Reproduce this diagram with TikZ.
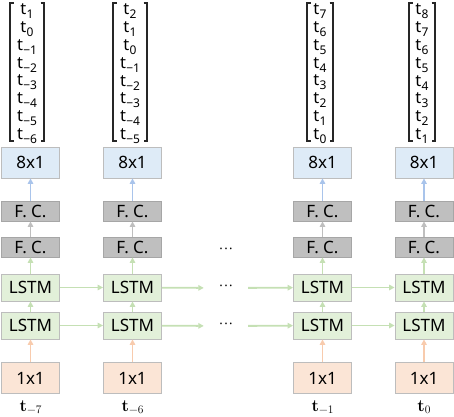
\documentclass[tikz,border=0pt]{standalone}
\usepackage{fontspec}
\setmainfont{Noto Sans}
\newfontfamily\lmr{Latin Modern Roman}
\usetikzlibrary{arrows.meta}
\definecolor{bluef}{HTML}{DEEBF7}
\definecolor{bluea}{HTML}{A9C4EB}
\definecolor{grayf}{HTML}{BFBFBF}
\definecolor{grayd}{HTML}{A6A6A6}
\definecolor{greenf}{HTML}{E2F0D9}
\definecolor{greena}{HTML}{C5E0B4}
\definecolor{orangef}{HTML}{FBE5D6}
\definecolor{orangea}{HTML}{F8CBAD}
\definecolor{bord}{HTML}{BDBDBD}
\newcommand\tsub[1]{t\kern0.3pt\raisebox{-0.45ex}{\fontsize{12}{12}\selectfont #1}}
\newcommand\blab[1]{{\lmr\bfseries t}\raisebox{-0.3ex}{\lmr\fontsize{11.5}{11.5}\selectfont #1}}
\begin{document}
\begin{tikzpicture}[x=1pt,y=-1pt,
  box/.style={draw=bord,line width=0.8pt,minimum width=58pt,inner sep=0pt,font=\fontsize{17}{17}\selectfont},
  outbox/.style={box,fill=bluef,minimum height=31pt},
  fcbox/.style={box,fill=grayf,draw=grayd,minimum height=20pt},
  lstmbox/.style={box,fill=greenf,minimum height=27pt},
  inbox/.style={box,fill=orangef,minimum height=31pt},
  arr/.style={line width=1.8pt,-{Triangle[length=5.5pt,width=5.5pt]}},
  dots/.style={inner sep=0pt,minimum width=44pt,minimum height=10pt,font=\fontsize{13}{13}\selectfont\bfseries},
  entry/.style={inner sep=0pt,font=\fontsize{16.5}{16.5}\selectfont},
  blabel/.style={inner sep=0pt,anchor=base,font=\fontsize{17}{17}\selectfont},
  brk/.style={line width=1.1pt,black!85}]
\useasboundingbox (0,0) rectangle (454,416);
% columns
\foreach \n/\x in {1/30.5,2/132.5,3/322.5,4/424}{
  \node[outbox] (o\n) at (\x,162.5) {8x1};
  \node[fcbox] (fa\n) at (\x,211) {F. C.};
  \node[fcbox] (fb\n) at (\x,247) {F. C.};
  \node[lstmbox] (la\n) at (\x,287.5) {LSTM};
  \node[lstmbox] (lb\n) at (\x,325.5) {LSTM};
  \node[inbox] (i\n) at (\x,378) {1x1};
  \draw[arr,orangea] (i\n) -- (lb\n);
  \draw[arr,greena] (lb\n) -- (la\n);
  \draw[arr,greena] (la\n) -- (fb\n);
  \draw[arr,grayf] (fb\n) -- (fa\n);
  \draw[arr,bluea] (fa\n) -- (o\n);
}
\node[dots] (d0) at (226,251) {·\kern1.5pt·\kern1.5pt·};
\node[dots] (d1) at (226,288) {·\kern1.5pt·\kern1.5pt·};
\node[dots] (d2) at (226,326) {·\kern1.5pt·\kern1.5pt·};
\foreach \r/\d in {la/d1,lb/d2}{
  \draw[arr,greena] (\r1) -- (\r2);
  \draw[arr,greena] (\r2) -- (\d);
  \draw[arr,greena] (\d) -- (\r3);
  \draw[arr,greena] (\r3) -- (\r4);
}
% bottom labels
\node[blabel] (b1) at (30.5,411) {\blab{−7}};
\node[blabel] (b2) at (132.5,411) {\blab{−6}};
\node[blabel] (b3) at (322.5,411) {\blab{−1}};
\node[blabel] (b4) at (424,411) {\blab{0}};
% vectors
\foreach \n/\x/\l/\r/\ents in {
  1/27/10/44/{1,0,−1,−2,−3,−4,−5,−6},
  2/130/113/147/{2,1,0,−1,−2,−3,−4,−5},
  3/320/307/333/{7,6,5,4,3,2,1,0},
  4/422/409/435/{8,7,6,5,4,3,2,1}}{
  \foreach \e [count=\i from 0] in \ents {
    \node[entry] (v\n-\i) at (\x,{11+17.9*\i}) {\tsub{\e}};
  }
  \draw[brk] (\l+3.5,3) -- (\l,3) -- (\l,141) -- (\l+3.5,141);
  \draw[brk] (\r-3.5,3) -- (\r,3) -- (\r,141) -- (\r-3.5,141);
}
\end{tikzpicture}
\end{document}
